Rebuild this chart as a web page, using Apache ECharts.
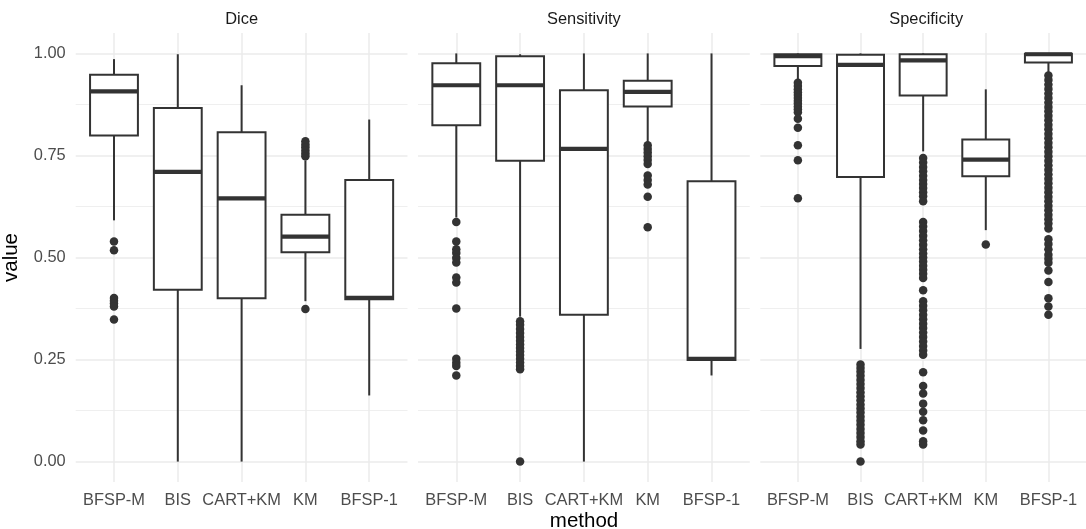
<!DOCTYPE html>
<html>
<head>
<meta charset="utf-8">
<script src="https://cdn.jsdelivr.net/npm/echarts@6/dist/echarts.min.js"></script>
<style>
html,body{margin:0;padding:0;background:#fff;}
#chart{width:1086px;height:529px;}
</style>
</head>
<body>
<div id="chart"></div>
<script>
// ---------------- data ----------------
const categories = ['BFSP-M', 'BIS', 'CART+KM', 'KM', 'BFSP-1'];
const panelNames = ['Dice', 'Sensitivity', 'Specificity'];
const yTicks = [0, 0.25, 0.5, 0.75, 1.0];
const yMinorTicks = [0.125, 0.375, 0.625, 0.875];

// box stats per category: [lower whisker, Q1, median, Q3, upper whisker]
const diceBox = [
  [0.591, 0.799, 0.907, 0.948, 0.986],
  [0.000, 0.421, 0.710, 0.866, 0.998],
  [0.000, 0.400, 0.645, 0.807, 0.922],
  [0.393, 0.513, 0.551, 0.605, 0.738],
  [0.162, 0.398, 0.401, 0.690, 0.838]
];
const sensBox = [
  [0.598, 0.824, 0.922, 0.976, 1.000],
  [0.355, 0.737, 0.922, 0.993, 0.998],
  [0.000, 0.360, 0.766, 0.910, 1.000],
  [0.781, 0.870, 0.906, 0.933, 1.000],
  [0.211, 0.249, 0.252, 0.687, 1.000]
];
const specBox = [
  [0.935, 0.969, 0.993, 0.998, 1.000],
  [0.276, 0.697, 0.972, 0.997, 1.000],
  [0.760, 0.897, 0.983, 0.998, 1.000],
  [0.567, 0.699, 0.740, 0.789, 0.912],
  [0.954, 0.978, 0.998, 0.999, 1.000]
];

// outliers per category
const diceOutliers = [
  [0.539, 0.518, 0.401, 0.394, 0.387, 0.380, 0.348],
  [],
  [],
  [0.785, 0.777, 0.770, 0.762, 0.755, 0.748, 0.374],
  []
];
const sensOutliers = [
  [0.587, 0.539, 0.520, 0.511, 0.499, 0.488, 0.451, 0.439, 0.375, 0.252, 0.242, 0.234, 0.211],
  [0.344, 0.335, 0.325, 0.315, 0.305, 0.296, 0.287, 0.278, 0.270, 0.261, 0.252, 0.243, 0.234, 0.226, 0.000],
  [],
  [0.775, 0.766, 0.757, 0.748, 0.739, 0.729, 0.701, 0.690, 0.679, 0.649, 0.574],
  []
];
const specOutliers = [
  [0.928, 0.920, 0.912, 0.905, 0.898, 0.891, 0.884, 0.877, 0.870, 0.863, 0.856, 0.840, 0.818, 0.775, 0.738, 0.645],
  [0.238, 0.229, 0.220, 0.210, 0.200, 0.190, 0.180, 0.170, 0.160, 0.150, 0.140, 0.130, 0.120, 0.110, 0.100,
   0.090, 0.080, 0.070, 0.060, 0.050, 0.042, 0.000],
  [0.744, 0.733, 0.722, 0.711, 0.700, 0.690, 0.680, 0.670, 0.660, 0.650, 0.638,
   0.587, 0.576, 0.565, 0.553, 0.542, 0.531, 0.520, 0.510, 0.500, 0.490, 0.480, 0.470, 0.460, 0.450,
   0.420,
   0.393, 0.382, 0.371, 0.360, 0.349, 0.338, 0.327, 0.316, 0.305, 0.294, 0.283, 0.272, 0.262,
   0.219, 0.185, 0.167, 0.142, 0.122, 0.101, 0.076, 0.050, 0.042],
  [0.532],
  [0.946, 0.935, 0.924, 0.913, 0.902, 0.891, 0.880, 0.869, 0.858, 0.847, 0.836, 0.825, 0.814, 0.803,
   0.792, 0.781, 0.770, 0.759, 0.748, 0.737, 0.726, 0.715, 0.704, 0.693, 0.682, 0.671, 0.660, 0.649,
   0.638, 0.627, 0.616, 0.605, 0.594, 0.583, 0.571, 0.545, 0.533, 0.520, 0.507, 0.497, 0.487, 0.468,
   0.440, 0.400, 0.380, 0.360]
];

const panelBoxes = [diceBox, sensBox, specBox];
const panelOutliers = [diceOutliers, sensOutliers, specOutliers];

// ---------------- layout / style ----------------
const FONT = '"Liberation Sans", Arial, Helvetica, sans-serif';
const GRID_LEFT0 = 75.7, PANEL_STEP = 342.3, PANEL_W = 331.8, GRID_TOP = 33, GRID_H = 449;
const LINE_COLOR = '#333333';

function renderBox(params, api) {
  const x = api.value(0);
  const pMin = api.coord([x, api.value(1)]);
  const pQ1 = api.coord([x, api.value(2)]);
  const pMed = api.coord([x, api.value(3)]);
  const pQ3 = api.coord([x, api.value(4)]);
  const pMax = api.coord([x, api.value(5)]);
  const halfW = api.size([0.75, 0])[0] / 2;
  const cx = pQ1[0];
  const lineStyle = { stroke: LINE_COLOR, lineWidth: 2, fill: null };
  return {
    type: 'group',
    children: [
      { type: 'line', shape: { x1: cx, y1: pQ3[1], x2: cx, y2: pMax[1] }, style: lineStyle },
      { type: 'line', shape: { x1: cx, y1: pQ1[1], x2: cx, y2: pMin[1] }, style: lineStyle },
      { type: 'rect', shape: { x: cx - halfW, y: pQ3[1], width: halfW * 2, height: pQ1[1] - pQ3[1] },
        style: { fill: '#ffffff', stroke: LINE_COLOR, lineWidth: 2 } },
      { type: 'line', shape: { x1: cx - halfW, y1: pMed[1], x2: cx + halfW, y2: pMed[1] },
        style: { stroke: LINE_COLOR, lineWidth: 4.2 } }
    ]
  };
}

const grids = [], xAxes = [], yAxes = [], series = [], graphics = [];
panelNames.forEach((name, i) => {
  const left = GRID_LEFT0 + i * PANEL_STEP;
  grids.push({ left: left, top: GRID_TOP, width: PANEL_W, height: GRID_H, containLabel: false });
  xAxes.push({
    type: 'value', gridIndex: i, min: 0.4, max: 5.6,
    axisLine: { show: false },
    axisTick: { show: false, customValues: [1, 2, 3, 4, 5] },
    axisLabel: {
      customValues: [1, 2, 3, 4, 5],
      formatter: v => categories[Math.round(v) - 1],
      color: '#4d4d4d', fontSize: 16.4, fontFamily: FONT, margin: 10.5
    },
    splitLine: { show: true, lineStyle: { color: '#ebebeb', width: 1.5 } }
  });
  // major y axis
  yAxes.push({
    type: 'value', gridIndex: i, min: -0.05, max: 1.05,
    axisLine: { show: false },
    axisTick: { show: false, customValues: yTicks },
    axisLabel: {
      show: i === 0,
      customValues: yTicks,
      formatter: v => v.toFixed(2),
      color: '#4d4d4d', fontSize: 16.4, fontFamily: FONT, margin: 10,
      padding: [3, 0, 0, 0]
    },
    splitLine: { show: true, lineStyle: { color: '#ebebeb', width: 1.5 } }
  });
  // minor y gridlines
  yAxes.push({
    type: 'value', gridIndex: i, min: -0.05, max: 1.05, position: 'left',
    axisLine: { show: false },
    axisTick: { show: false, customValues: yMinorTicks },
    axisLabel: { show: false, customValues: yMinorTicks },
    splitLine: { show: true, lineStyle: { color: '#ebebeb', width: 0.8 } }
  });

  const boxData = categories.map((c, j) => [j + 1].concat(panelBoxes[i][j]));
  const outData = [];
  categories.forEach((c, j) => {
    panelOutliers[i][j].forEach(v => outData.push([j + 1, v]));
  });
  series.push({
    type: 'scatter', xAxisIndex: i, yAxisIndex: i * 2,
    data: outData, symbol: 'circle', symbolSize: 8.5,
    itemStyle: { color: '#333333', opacity: 1 },
    silent: true, z: 2
  });
  series.push({
    type: 'custom', xAxisIndex: i, yAxisIndex: i * 2,
    data: boxData, renderItem: renderBox,
    encode: { x: 0, y: [1, 2, 3, 4, 5] },
    silent: true, z: 3
  });
  graphics.push({
    type: 'text', x: left + PANEL_W / 2, y: 19.5,
    style: { text: name, fill: '#1a1a1a', font: '16.4px ' + FONT, align: 'center', verticalAlign: 'middle' }
  });
});

graphics.push({
  type: 'text', x: 584, y: 521,
  style: { text: 'method', fill: '#000000', font: '20.5px ' + FONT, align: 'center', verticalAlign: 'middle' }
});
graphics.push({
  type: 'text', x: 11.5, y: 257.5, rotation: Math.PI / 2,
  style: { text: 'value', fill: '#000000', font: '20.5px ' + FONT, align: 'center', verticalAlign: 'middle' }
});

const chart = echarts.init(document.getElementById('chart'), null, { renderer: 'canvas' });
chart.setOption({
  animation: false,
  backgroundColor: '#ffffff',
  grid: grids,
  xAxis: xAxes,
  yAxis: yAxes,
  series: series,
  graphic: graphics
});
</script>
</body>
</html>
